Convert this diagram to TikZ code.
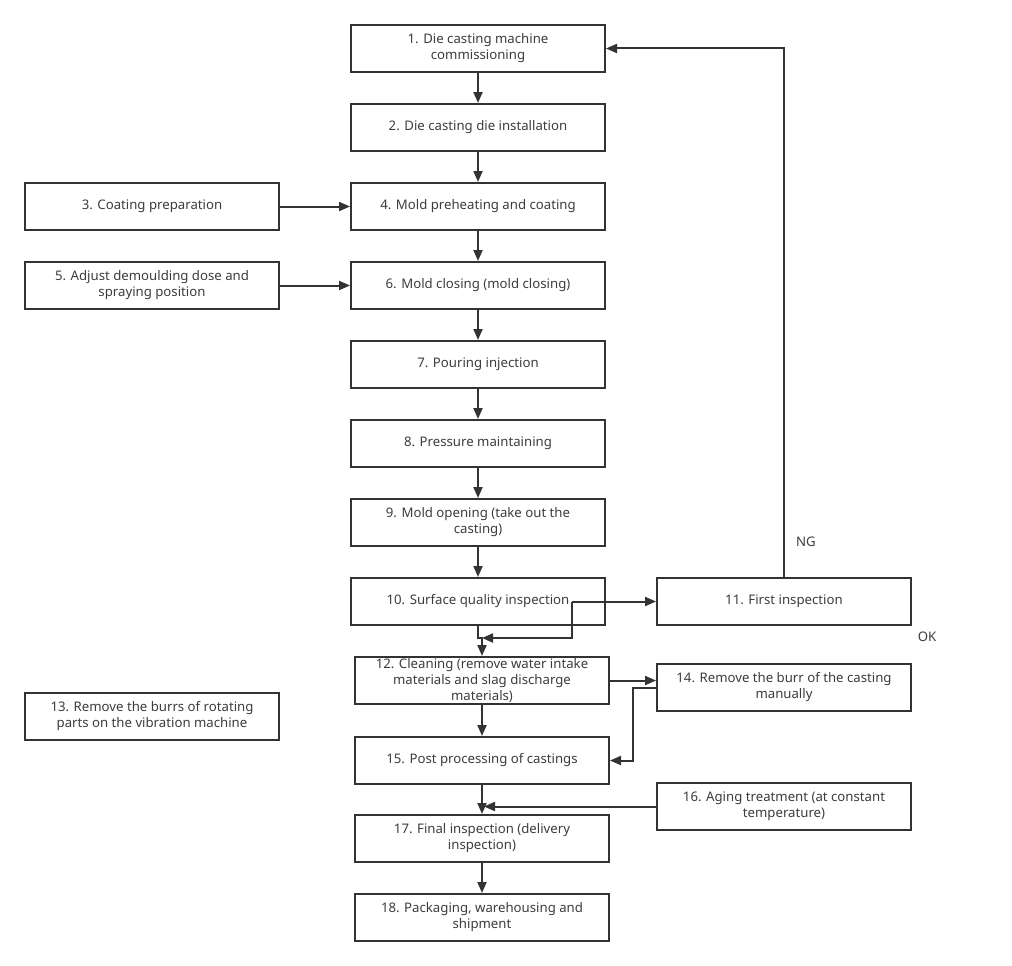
\documentclass[tikz,border=0pt]{standalone}
\usepackage{fontspec}
\setmainfont{Noto Sans}
\usetikzlibrary{arrows.meta}
\definecolor{ln}{HTML}{333333}
\definecolor{tx}{HTML}{3C3C3C}
\begin{document}
\begin{tikzpicture}[x=1pt,y=-1pt,
 box/.style={draw=ln, line width=2pt, minimum width=254pt, minimum height=47pt, inner sep=0pt, align=center, font=\fontsize{13.2}{16}\selectfont, text=tx},
 conn/.style={draw=ln, line width=2pt, -{Triangle[length=11pt,width=9pt]}},
 lbl/.style={text=tx, font=\fontsize{13.2}{16}\selectfont}]
\useasboundingbox (0,0) rectangle (1012,966);
\node[box] (n1) at (478,48.5) {1. Die casting machine\\commissioning};
\node[box] (n2) at (478,127.5) {2. Die casting die installation};
\node[box] (n3) at (152,206.5) {3. Coating preparation};
\node[box] (n4) at (478,206.5) {4. Mold preheating and coating};
\node[box] (n5) at (152,285.5) {5. Adjust demoulding dose and\\spraying position};
\node[box] (n6) at (478,285.5) {6. Mold closing (mold closing)};
\node[box] (n7) at (478,364.5) {7. Pouring injection};
\node[box] (n8) at (478,443.5) {8. Pressure maintaining};
\node[box] (n9) at (478,522.5) {9. Mold opening (take out the\\casting)};
\node[box] (n10) at (478,601.5) {10. Surface quality inspection};
\node[box] (n11) at (784,601.5) {11. First inspection};
\node[box] (n12) at (482,680.5) {12. Cleaning (remove water intake\\materials and slag discharge\\materials)};
\node[box] (n13) at (152,716.5) {13. Remove the burrs of rotating\\parts on the vibration machine};
\node[box] (n14) at (784,687.5) {14. Remove the burr of the casting\\manually};
\node[box] (n15) at (482,760.5) {15. Post processing of castings};
\node[box] (n16) at (784,806.5) {16. Aging treatment (at constant\\temperature)};
\node[box] (n17) at (482,838.5) {17. Final inspection (delivery\\inspection)};
\node[box] (n18) at (482,917.5) {18. Packaging, warehousing and\\shipment};
\node[lbl] (ng) at (806,542) {NG};
\node[lbl] (ok) at (927,637) {OK};
\coordinate (j1) at (572,601.5);
\coordinate (j2) at (482,638);
\coordinate (b1) at (633,687.5);
\coordinate (j3) at (484,806.5);
\draw[conn] (n1.south) -- (n2.north);
\draw[conn] (n2.south) -- (n4.north);
\draw[conn] (n4.south) -- (n6.north);
\draw[conn] (n6.south) -- (n7.north);
\draw[conn] (n7.south) -- (n8.north);
\draw[conn] (n8.south) -- (n9.north);
\draw[conn] (n9.south) -- (n10.north);
\draw[conn] (n3.east) -- (n4.west);
\draw[conn] (n5.east) -- (n6.west);
\draw[conn] (j1) -- (n11.west);
\draw[conn] (j1) |- (j2);
\draw[conn] (n10.south) |- (j2) -- (n12.north);
\draw[conn] (n12.east) -- (n14.west |- n12.east);
\draw[conn] (n14.west) -- (b1) |- (n15.east);
\draw[conn] (n12.south) -- (n15.north);
\draw[conn] (n15.south) -- (n17.north);
\draw[conn] (n17.south) -- (n18.north);
\draw[conn] (n16.west) -- (j3);
\draw[conn] (n11.north) |- (n1.east);
\end{tikzpicture}
\end{document}
